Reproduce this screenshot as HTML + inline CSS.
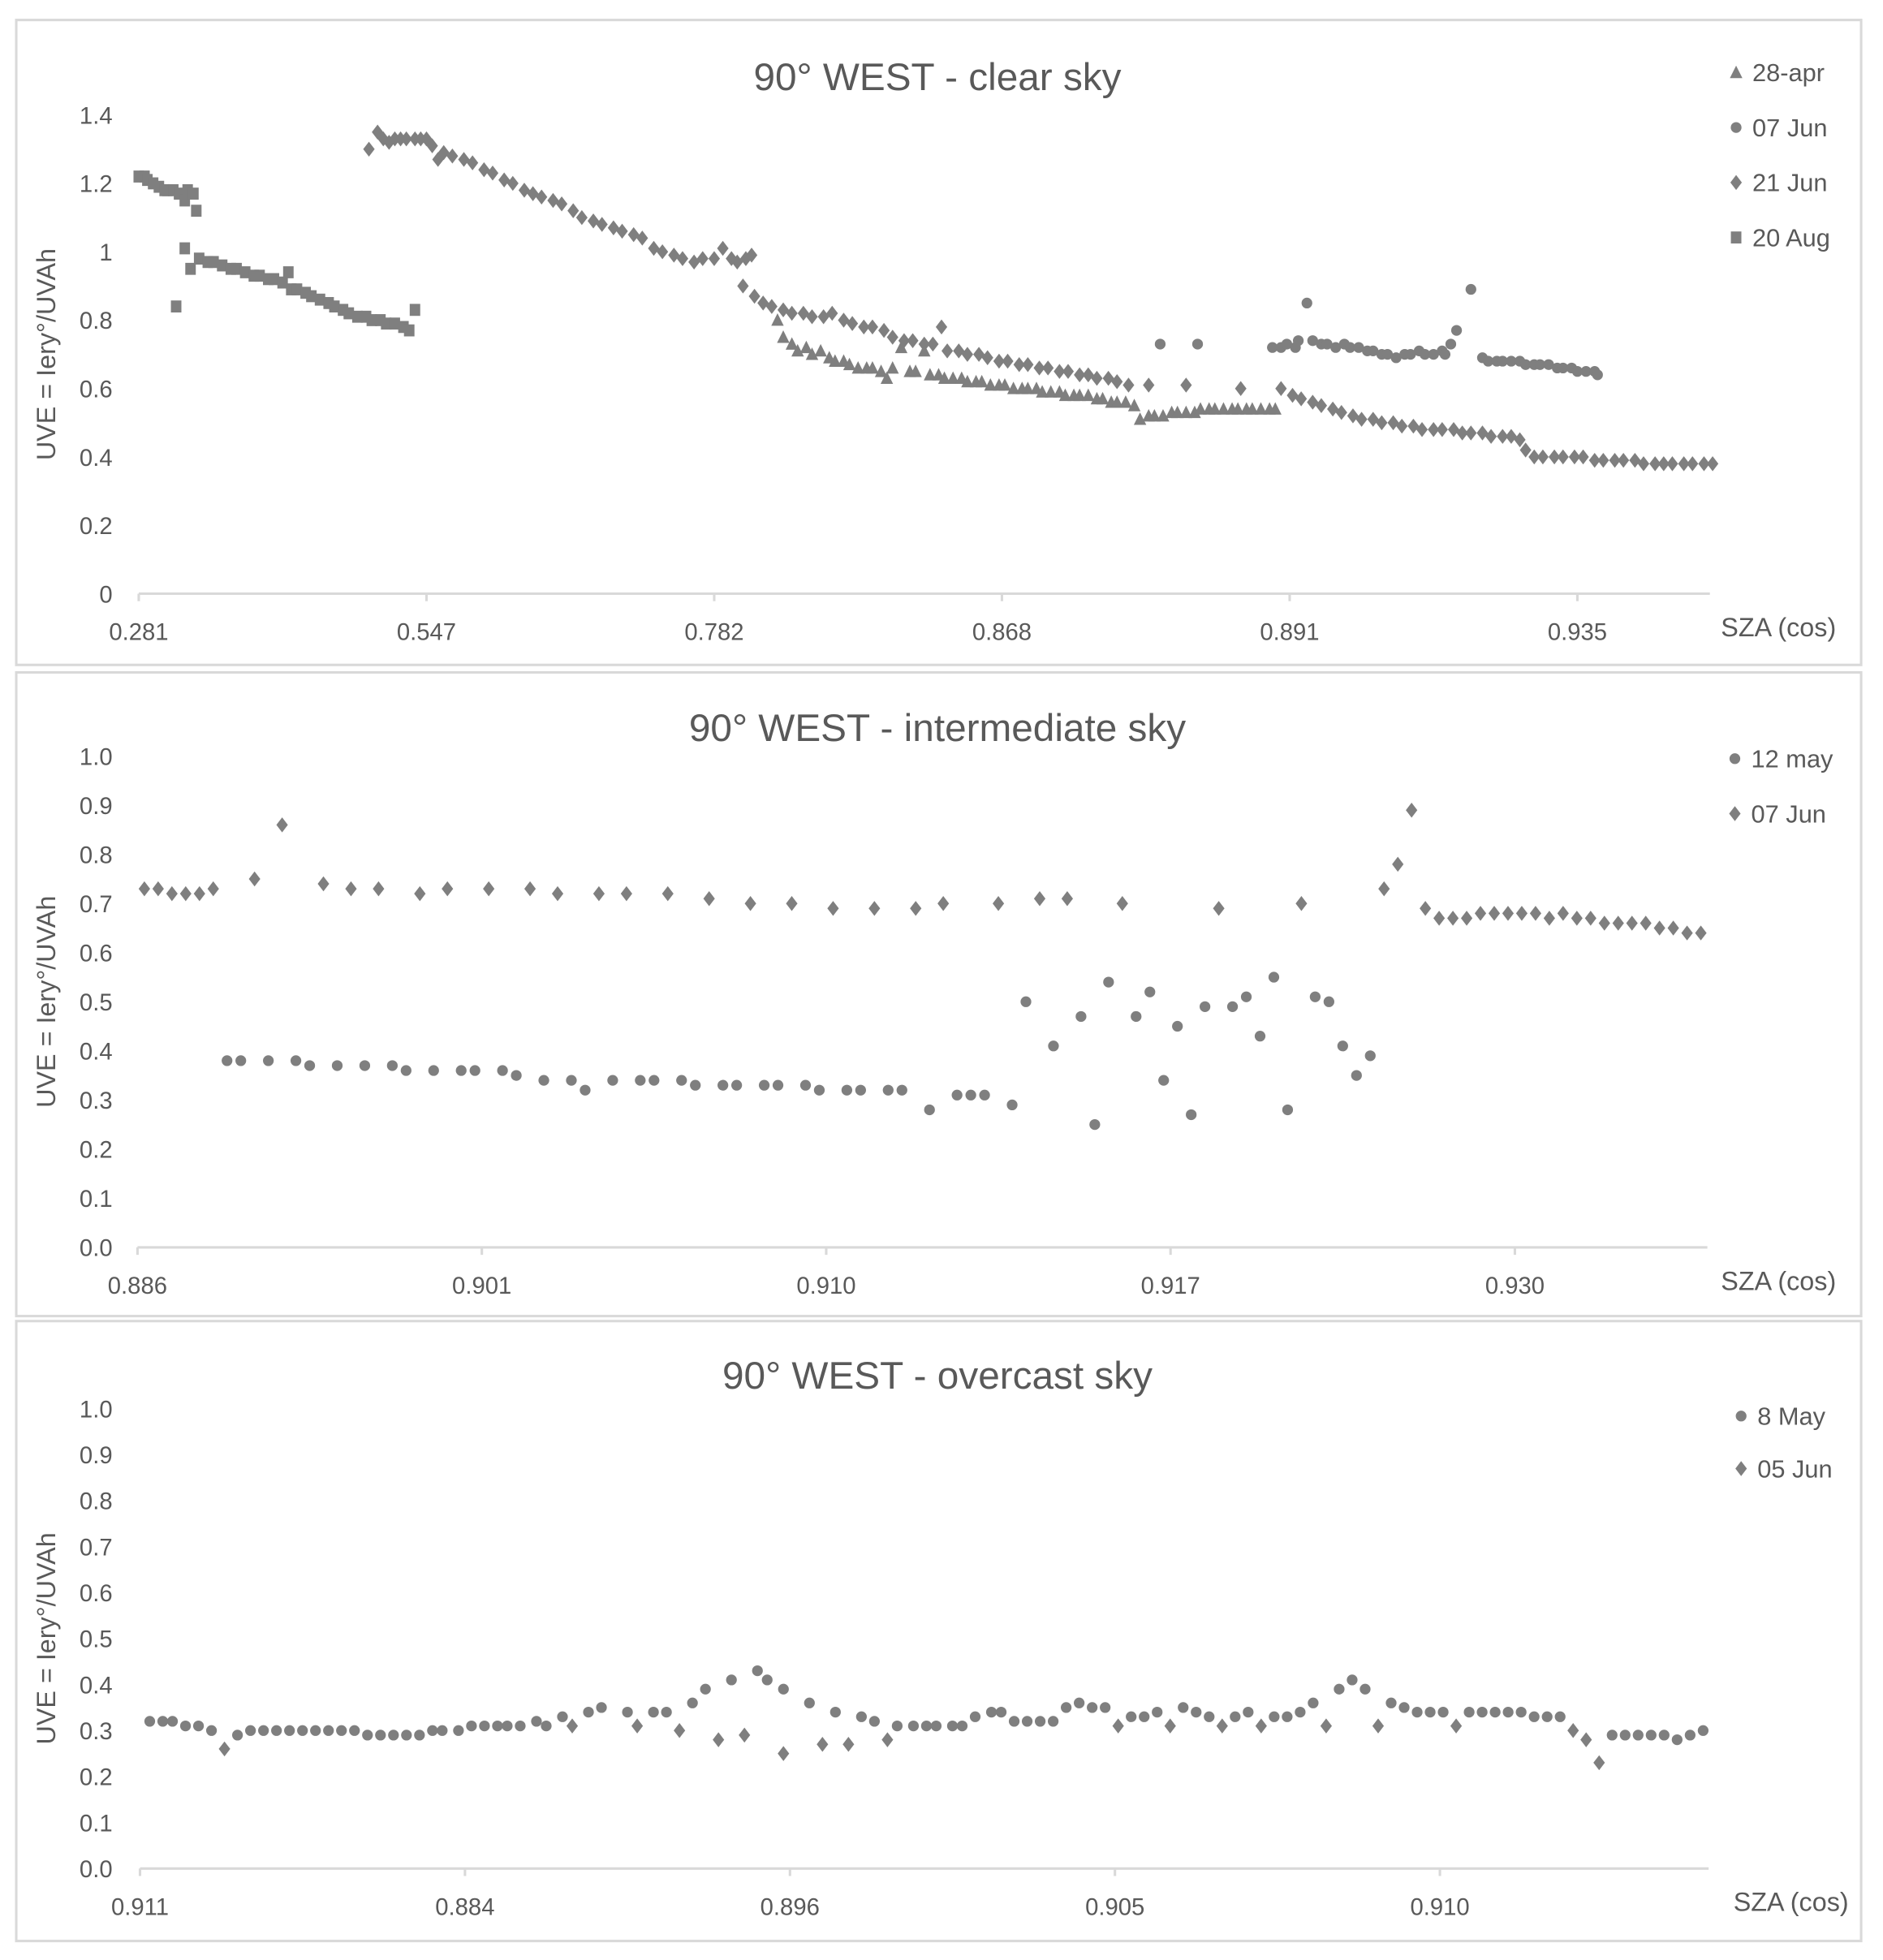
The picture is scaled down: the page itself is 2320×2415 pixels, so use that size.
<!DOCTYPE html>
<html><head><meta charset="utf-8"><style>
html,body{margin:0;padding:0;background:#fff}
svg{display:block}
text{font-family:"Liberation Sans",sans-serif;fill:#595959}
</style></head><body>
<svg id="chart" width="2320" height="2415" viewBox="0 0 1506.5 1568.2" xmlns="http://www.w3.org/2000/svg"></svg>
<script>
// ---------- Panel 1: clear sky ----------
const clearTicks = ["0.281","0.547","0.782","0.868","0.891","0.935"];
const clearYTicks = ["0","0.2","0.4","0.6","0.8","1","1.2","1.4"];
const clearAugX = [0,.02,.03,.05,.07,.09,.10,.12,.14,.16,.17,.19,.20,.13,.16,.18,.21,.24,.26,.29,.32,.34,.37,.40,.42,.45,.47,.50,.52,.53,.55,.58,.60,.63,.66,.68,.71,.73,.76,.79,.81,.84,.86,.89,.92,.94,.96];
const clearAugY = [1.22,1.22,1.21,1.20,1.19,1.18,1.18,1.18,1.17,1.15,1.18,1.17,1.12,0.84,1.01,0.95,0.98,0.97,0.97,0.96,0.95,0.95,0.94,0.93,0.93,0.92,0.92,0.91,0.94,0.89,0.89,0.88,0.87,0.86,0.85,0.84,0.83,0.82,0.81,0.81,0.80,0.80,0.79,0.79,0.78,0.77,0.83];
const clearJun21X = [.80,.83,.85,.87,.89,.91,.93,.96,.98,1.00,1.02,1.04,1.06,1.09,1.13,1.16,1.20,1.23,1.27,1.30,1.34,1.37,1.40,1.44,1.47,1.51,1.54,1.58,1.61,1.65,1.68,1.72,1.75,1.79,1.82,1.86,1.89,1.93,1.96,2.00,2.03,2.06,2.08,2.11,2.13,2.10,2.14,2.17,2.20,2.24,2.27,2.31,2.34,2.38,2.41,2.45,2.48,2.52,2.55,2.59,2.62,2.66,2.69,2.73,2.76,2.79,2.81,2.85,2.88,2.92,2.95,2.99,3.02,3.06,3.09,3.13,3.16,3.20,3.23,3.27,3.30,3.33,3.37,3.40,3.44,3.51,3.64,3.83,3.97,4.01,4.04,4.08,4.11,4.15,4.18,4.22,4.25,4.29,4.32,4.36,4.39,4.43,4.46,4.50,4.53,4.57,4.60,4.63,4.67,4.70,4.74,4.77,4.80,4.82,4.85,4.88,4.92,4.95,4.99,5.02,5.06,5.09,5.13,5.16,5.20,5.23,5.27,5.30,5.33,5.37,5.40,5.44,5.47];
const clearJun21Y = [1.30,1.35,1.33,1.32,1.33,1.33,1.33,1.33,1.33,1.33,1.31,1.27,1.29,1.28,1.27,1.26,1.24,1.23,1.21,1.20,1.18,1.17,1.16,1.15,1.14,1.12,1.10,1.09,1.08,1.07,1.06,1.05,1.04,1.01,1.00,0.99,0.98,0.97,0.98,0.98,1.01,0.98,0.97,0.98,0.99,0.90,0.87,0.85,0.84,0.83,0.82,0.82,0.81,0.81,0.82,0.80,0.79,0.78,0.78,0.77,0.75,0.74,0.74,0.73,0.73,0.78,0.71,0.71,0.70,0.70,0.69,0.68,0.68,0.67,0.67,0.66,0.66,0.65,0.65,0.64,0.64,0.63,0.63,0.62,0.61,0.61,0.61,0.60,0.60,0.58,0.57,0.56,0.55,0.54,0.53,0.52,0.51,0.51,0.50,0.50,0.49,0.49,0.48,0.48,0.48,0.48,0.47,0.47,0.47,0.46,0.46,0.46,0.45,0.42,0.40,0.40,0.40,0.40,0.40,0.40,0.39,0.39,0.39,0.39,0.39,0.38,0.38,0.38,0.38,0.38,0.38,0.38,0.38];
const clearAprX = [2.22,2.24,2.27,2.29,2.32,2.34,2.37,2.40,2.42,2.45,2.47,2.50,2.53,2.55,2.58,2.60,2.62,2.65,2.68,2.70,2.73,2.75,2.78,2.80,2.83,2.86,2.88,2.91,2.93,2.96,2.99,3.01,3.04,3.07,3.09,3.12,3.14,3.17,3.20,3.22,3.25,3.27,3.30,3.33,3.35,3.38,3.40,3.43,3.46,3.48,3.51,3.53,3.56,3.59,3.61,3.64,3.67,3.69,3.72,3.74,3.77,3.80,3.82,3.85,3.87,3.90,3.93,3.95];
const clearAprY = [0.80,0.75,0.73,0.71,0.72,0.70,0.71,0.69,0.68,0.68,0.67,0.66,0.66,0.66,0.65,0.63,0.66,0.72,0.65,0.65,0.71,0.64,0.64,0.63,0.63,0.63,0.62,0.62,0.62,0.61,0.61,0.61,0.60,0.60,0.60,0.60,0.59,0.59,0.59,0.58,0.58,0.58,0.58,0.57,0.57,0.56,0.56,0.56,0.55,0.51,0.52,0.52,0.52,0.53,0.53,0.53,0.53,0.54,0.54,0.54,0.54,0.54,0.54,0.54,0.54,0.54,0.54,0.54];
const clearJun07X = [3.55,3.68,3.94,3.97,3.99,4.02,4.03,4.06,4.08,4.11,4.13,4.16,4.19,4.21,4.24,4.27,4.29,4.32,4.34,4.37,4.40,4.42,4.45,4.47,4.50,4.53,4.54,4.56,4.58,4.63,4.67,4.69,4.72,4.74,4.77,4.80,4.82,4.85,4.87,4.90,4.93,4.95,4.98,5.00,5.03,5.06,5.07];
const clearJun07Y = [0.73,0.73,0.72,0.72,0.73,0.72,0.74,0.85,0.74,0.73,0.73,0.72,0.73,0.72,0.72,0.71,0.71,0.70,0.70,0.69,0.70,0.70,0.71,0.70,0.70,0.71,0.70,0.73,0.77,0.89,0.69,0.68,0.68,0.68,0.68,0.68,0.67,0.67,0.67,0.67,0.66,0.66,0.66,0.65,0.65,0.65,0.64];

// ---------- Panel 2: intermediate sky ----------
const interTicks = ["0.886","0.901","0.910","0.917","0.930"];
const interYTicks = ["0.0","0.1","0.2","0.3","0.4","0.5","0.6","0.7","0.8","0.9","1.0"];
const interMayX = [.26,.30,.38,.46,.50,.58,.66,.74,.78,.86,.94,.98,1.06,1.10,1.18,1.26,1.30,1.38,1.46,1.50,1.58,1.62,1.70,1.74,1.82,1.86,1.94,1.98,2.06,2.10,2.18,2.22,2.30,2.38,2.42,2.46,2.54,2.58,2.66,2.74,2.78,2.82,2.90,2.94,2.98,3.02,3.06,3.10,3.18,3.22,3.26,3.30,3.34,3.42,3.46,3.50,3.54,3.58];
const interMayY = [.38,.38,.38,.38,.37,.37,.37,.37,.36,.36,.36,.36,.36,.35,.34,.34,.32,.34,.34,.34,.34,.33,.33,.33,.33,.33,.33,.32,.32,.32,.32,.32,.28,.31,.31,.31,.29,.50,.41,.47,.25,.54,.47,.52,.34,.45,.27,.49,.49,.51,.43,.55,.28,.51,.50,.41,.35,.39];
const interJunX = [.02,.06,.10,.14,.18,.22,.34,.42,.54,.62,.70,.82,.90,1.02,1.14,1.22,1.34,1.42,1.54,1.66,1.78,1.90,2.02,2.14,2.26,2.34,2.50,2.62,2.70,2.86,3.14,3.38,3.62,3.66,3.70,3.74,3.78,3.82,3.86,3.90,3.94,3.98,4.02,4.06,4.10,4.14,4.18,4.22,4.26,4.30,4.34,4.38,4.42,4.46,4.50,4.54];
const interJunY = [.73,.73,.72,.72,.72,.73,.75,.86,.74,.73,.73,.72,.73,.73,.73,.72,.72,.72,.72,.71,.70,.70,.69,.69,.69,.70,.70,.71,.71,.70,.69,.70,.73,.78,.89,.69,.67,.67,.67,.68,.68,.68,.68,.68,.67,.68,.67,.67,.66,.66,.66,.66,.65,.65,.64,.64];

// ---------- Panel 3: overcast sky ----------
const overTicks = ["0.911","0.884","0.896","0.905","0.910"];
const overYTicks = ["0.0","0.1","0.2","0.3","0.4","0.5","0.6","0.7","0.8","0.9","1.0"];
const overMayX = [.03,.07,.10,.14,.18,.22,.30,.34,.38,.42,.46,.50,.54,.58,.62,.66,.70,.74,.78,.82,.86,.90,.93,.98,1.02,1.06,1.10,1.13,1.17,1.22,1.25,1.30,1.38,1.42,1.50,1.58,1.62,1.70,1.74,1.82,1.90,1.93,1.98,2.06,2.14,2.22,2.26,2.33,2.38,2.42,2.45,2.50,2.53,2.57,2.62,2.65,2.69,2.73,2.77,2.81,2.85,2.89,2.93,2.97,3.05,3.09,3.13,3.21,3.25,3.29,3.37,3.41,3.49,3.53,3.57,3.61,3.69,3.73,3.77,3.85,3.89,3.93,3.97,4.01,4.09,4.13,4.17,4.21,4.25,4.29,4.33,4.37,4.53,4.57,4.61,4.65,4.69,4.73,4.77,4.81];
const overMayY = [.32,.32,.32,.31,.31,.30,.29,.30,.30,.30,.30,.30,.30,.30,.30,.30,.29,.29,.29,.29,.29,.30,.30,.30,.31,.31,.31,.31,.31,.32,.31,.33,.34,.35,.34,.34,.34,.36,.39,.41,.43,.41,.39,.36,.34,.33,.32,.31,.31,.31,.31,.31,.31,.33,.34,.34,.32,.32,.32,.32,.35,.36,.35,.35,.33,.33,.34,.35,.34,.33,.33,.34,.33,.33,.34,.36,.39,.41,.39,.36,.35,.34,.34,.34,.34,.34,.34,.34,.34,.33,.33,.33,.29,.29,.29,.29,.29,.28,.29,.30];
const overJunX = [.26,1.33,1.53,1.66,1.78,1.86,1.98,2.10,2.18,2.30,3.01,3.17,3.33,3.45,3.65,3.81,4.05,4.41,4.45,4.49];
const overJunY = [.26,.31,.31,.30,.28,.29,.25,.27,.27,.28,.31,.31,.31,.31,.31,.31,.31,.30,.28,.23];

// ---------- rendering ----------
const NS = "http://www.w3.org/2000/svg";
const svg = document.getElementById('chart');
const GREY = "#7f7f7f";
function mk(tag, attrs, parent) {
  const e = document.createElementNS(NS, tag);
  for (const k in attrs) e.setAttribute(k, attrs[k]);
  (parent || svg).appendChild(e);
  return e;
}
function marker(shape, cx, cy, g) {
  let e;
  if (shape === 'circle') e = mk('circle', {cx, cy, r: 4.3, fill: GREY}, g);
  else if (shape === 'diamond') e = mk('polygon', {points: `${cx},${cy-6} ${cx+4.6},${cy} ${cx},${cy+6} ${cx-4.6},${cy}`, fill: GREY}, g);
  else if (shape === 'square') e = mk('rect', {x: cx-4.2, y: cy-4.8, width: 8.4, height: 9.6, fill: GREY}, g);
  else e = mk('polygon', {points: `${cx},${cy-5.5} ${cx+5},${cy+4.5} ${cx-5},${cy+4.5}`, fill: GREY}, g);
  return e;
}
function panel(cfg) {
  const g = mk('g', {});
  
  
  const box = mk('rect', {x: cfg.box[0], y: cfg.box[1], width: cfg.box[2], height: cfg.box[3], fill: '#fff', stroke: '#d9d9d9', 'stroke-width': 2}, g);
  
  
  const xs = v => cfg.x0 + v * cfg.xStep;
  const ys = v => cfg.y0 - (v / cfg.yMax) * (cfg.y0 - cfg.yTop);
  const t = mk('text', {x: cfg.titleX, y: cfg.titleY, 'font-size': 31, 'text-anchor': 'middle'}, g);
  t.textContent = cfg.title;
  
  
  const yl = mk('text', {x: 0, y: 0, 'font-size': 21, 'text-anchor': 'middle', transform: `translate(44,${(cfg.y0 + cfg.yTop)/2}) rotate(-90)`}, g);
  yl.textContent = 'UVE = Iery°/UVAh';
  
  
  cfg.yTicks.forEach((lab, i) => {
    const v = i * cfg.yMax / (cfg.yTicks.length - 1);
    const tx = mk('text', {x: 90, y: ys(v) + 7, 'font-size': 19, 'text-anchor': 'end'}, g);
    tx.textContent = lab;
    
    
  });
  const ax = mk('line', {x1: cfg.x0, x2: cfg.xEnd, y1: cfg.y0, y2: cfg.y0, stroke: '#d9d9d9', 'stroke-width': 2}, g);
  
  
  cfg.xTicks.forEach((lab, i) => {
    const tl = mk('line', {x1: xs(i), x2: xs(i), y1: cfg.y0, y2: cfg.y0 + 6, stroke: '#d9d9d9', 'stroke-width': 2}, g);
    
    
    const tx = mk('text', {x: xs(i), y: cfg.y0 + 37, 'font-size': 19, 'text-anchor': 'middle'}, g);
    tx.textContent = lab;
    
    
  });
  const xt = mk('text', {x: cfg.xtX, y: cfg.y0 + 34, 'font-size': 21, 'text-anchor': 'end'}, g);
  xt.textContent = 'SZA (cos)';
  
  
  cfg.series.forEach((s, si) => {
    const sg = mk('g', {}, g);
    
    
    s.x.forEach((xv, i) => {
      const m = marker(s.shape, xs(xv), ys(s.y[i]), sg);
      
      
    });
    const ly = cfg.legY + si * cfg.legStep;
    const lg = mk('g', {}, g);
    
    
    marker(s.legShape || s.shape, cfg.legX, ly - 7, lg);
    const lt = mk('text', {x: cfg.legX + 13, y: ly, 'font-size': 20}, lg);
    lt.textContent = s.label;
  });
}
panel({name: 'clear-sky-panel', box: [13,16,1476,516], title: '90° WEST - clear sky', titleX: 750, titleY: 72,
  x0: 111, xStep: 230.2, xEnd: 1368, y0: 475, yTop: 92, yMax: 1.4, xTicks: clearTicks, yTicks: clearYTicks, xtX: 1469,
  legX: 1389, legY: 65, legStep: 44,
  series: [
    {key: '28-apr', label: '28-apr', shape: 'triangle', x: clearAprX, y: clearAprY},
    {key: '07-jun', label: '07 Jun', shape: 'circle', x: clearJun07X, y: clearJun07Y},
    {key: '21-jun', label: '21 Jun', shape: 'diamond', x: clearJun21X, y: clearJun21Y},
    {key: '20-aug', label: '20 Aug', shape: 'square', x: clearAugX, y: clearAugY}
  ]});
panel({name: 'intermediate-sky-panel', box: [13,538,1476,515], title: '90° WEST - intermediate sky', titleX: 750, titleY: 593,
  x0: 110, xStep: 275.5, xEnd: 1366, y0: 998, yTop: 605, yMax: 1.0, xTicks: interTicks, yTicks: interYTicks, xtX: 1469,
  legX: 1388, legY: 614, legStep: 44,
  series: [
    {key: '12-may', label: '12 may', shape: 'circle', x: interMayX, y: interMayY},
    {key: '07-jun', label: '07 Jun', shape: 'diamond', x: interJunX, y: interJunY}
  ]});
panel({name: 'overcast-sky-panel', box: [13,1057,1476,496], title: '90° WEST - overcast sky', titleX: 750, titleY: 1111,
  x0: 112, xStep: 260, xEnd: 1367, y0: 1495, yTop: 1127, yMax: 1.0, xTicks: overTicks, yTicks: overYTicks, xtX: 1479,
  legX: 1393, legY: 1140, legStep: 42,
  series: [
    {key: '8-may', label: '8 May', shape: 'circle', x: overMayX, y: overMayY},
    {key: '05-jun', label: '05 Jun', shape: 'diamond', x: overJunX, y: overJunY}
  ]});
</script>
</body></html>
